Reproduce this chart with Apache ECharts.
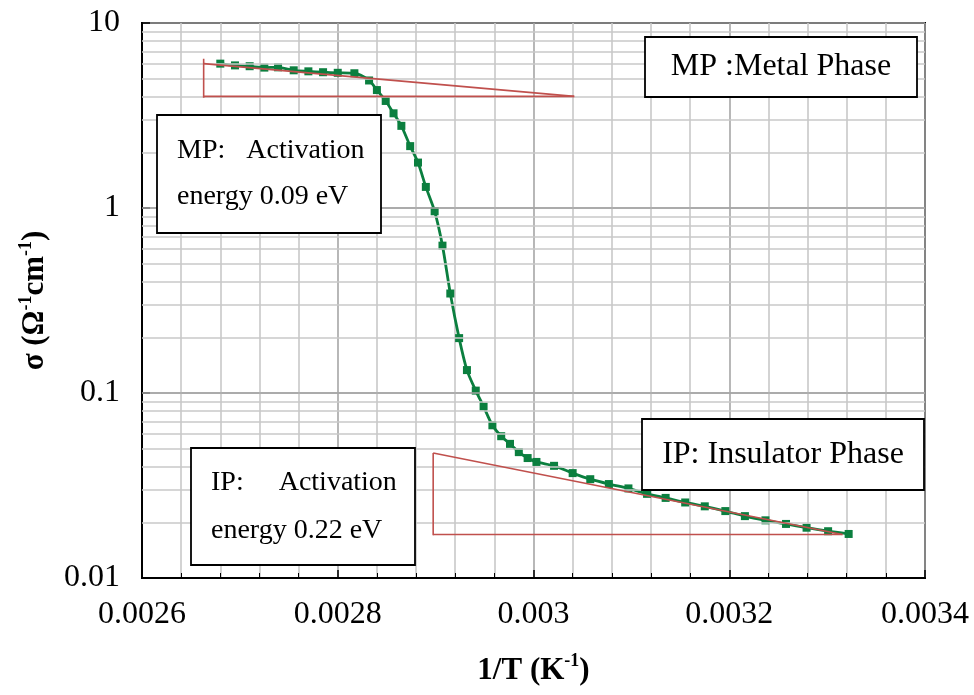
<!DOCTYPE html>
<html>
<head>
<meta charset="utf-8">
<script src="https://cdn.jsdelivr.net/npm/echarts@6/dist/echarts.min.js"></script>
<style>
  html, body { margin: 0; padding: 0; background: #fff; }
  #chart { width: 974px; height: 695px; }
</style>
</head>
<body>
<div id="chart"></div>
<script>
// Conductivity versus inverse temperature (1/T in K^-1, sigma in S/cm)
const invT = [
  0.002680, 0.002695, 0.002710, 0.002725, 0.002739, 0.002755, 0.002770, 0.002785,
  0.002800, 0.002817, 0.002832, 0.002840, 0.002849, 0.002857, 0.002865, 0.002874,
  0.002882, 0.002890, 0.002899, 0.002907, 0.002915, 0.002924, 0.002932, 0.002941,
  0.002949, 0.002958, 0.002967, 0.002976, 0.002985, 0.002994, 0.003003, 0.003021,
  0.003040, 0.003058, 0.003077, 0.003097, 0.003116, 0.003135, 0.003155, 0.003175,
  0.003196, 0.003216, 0.003237, 0.003258, 0.003279, 0.003301, 0.003322
];
const sigma = [
  6.03, 5.90, 5.84, 5.74, 5.76, 5.55, 5.48, 5.42,
  5.38, 5.35, 4.89, 4.34, 3.79, 3.25, 2.78, 2.16,
  1.76, 1.30, 0.96, 0.626, 0.345, 0.198, 0.133, 0.103,
  0.0845, 0.0669, 0.0584, 0.0531, 0.0479, 0.0445, 0.0424, 0.0404,
  0.0369, 0.0342, 0.0322, 0.0305, 0.0285, 0.0271, 0.0256, 0.0244,
  0.0230, 0.0216, 0.0205, 0.0196, 0.0187, 0.0179, 0.0173
];

// Activation-energy guide triangles (metal phase, insulator phase)
const mpRise = [[0.002663, 3.95], [0.002663, 6.40]];
const mpSlope = [[0.002663, 6.03], [0.0030416, 4.01]];
const mpRun = [[0.002663, 4.01], [0.0030416, 4.01]];
const ipRise = [[0.0028975, 0.0170], [0.0028975, 0.0474]];
const ipSlope = [[0.0028975, 0.0474], [0.0033157, 0.0172]];
const ipRun = [[0.0028975, 0.0172], [0.0033157, 0.0172]];

// Axis ranges and ticks
const xTicks = [0.0026, 0.0028, 0.003, 0.0032, 0.0034];
const yDecades = [0.01, 0.1, 1, 10];
const minorSteps = [2, 3, 4, 5, 6, 7, 8, 9];

// Labels
const xTitle = '1/T (K{sup|-1})';
const yTitle = 'σ (Ω{sup|-1}cm{sup|-1})';
const noteMetal = 'MP :Metal Phase';
const noteInsul = 'IP: Insulator Phase';
const noteMpLines = ['MP:   Activation', 'energy 0.09 eV'];
const noteIpLines = ['IP:     Activation', 'energy 0.22 eV'];

const SERIF = '"Liberation Serif", "Times New Roman", serif';
const GREEN = '#0b7f3f';
const RED = '#c0504d';

// horizontal minor grid lines at 2..9 of each decade
const yMinorLines = [];
yDecades.slice(0, -1).forEach(d => minorSteps.forEach(m => yMinorLines.push({ yAxis: +(d * m).toPrecision(3) })));
const yMajorLines = yDecades.slice(1, -1).map(v => ({ yAxis: v }));

const chart = echarts.init(document.getElementById('chart'), null, { renderer: 'canvas' });

function guide(data) {
  return {
    type: 'line', data: data, symbol: 'none', silent: true, z: 5,
    lineStyle: { color: RED, width: 1.6 }
  };
}

function noteBox(x, y, w, h, lines, fontSize, lineGap) {
  const out = [{
    type: 'rect', z: 100, zlevel: 0,
    shape: { x: x, y: y, width: w, height: h },
    style: { fill: '#ffffff', stroke: '#000', lineWidth: 1.8 }
  }];
  lines.forEach((t, i) => {
    out.push({
      type: 'text', z: 101, zlevel: 0,
      x: lines.length === 1 ? x + w / 2 : x + 20,
      y: y + h / 2 + (i - (lines.length - 1) / 2) * lineGap,
      style: {
        text: t, font: fontSize + 'px ' + SERIF, fill: '#000',
        align: lines.length === 1 ? 'center' : 'left', verticalAlign: 'middle'
      }
    });
  });
  return out;
}

const option = {
  animation: false,
  backgroundColor: '#fff',
  grid: {
    left: 142, right: 49, top: 23, bottom: 112,
    show: true, borderColor: '#000', borderWidth: 2, backgroundColor: 'transparent'
  },
  xAxis: {
    type: 'value', min: xTicks[0], max: xTicks[xTicks.length - 1], interval: 0.0002,
    name: xTitle, nameLocation: 'middle', nameGap: 74,
    nameTextStyle: {
      fontFamily: SERIF, fontSize: 31, fontWeight: 'bold', color: '#000', lineHeight: 38,
      rich: { sup: { fontFamily: SERIF, fontSize: 18, fontWeight: 'bold', color: '#000', verticalAlign: 'top', lineHeight: 38, padding: [0, 0, 14, 0] } }
    },
    axisLine: { lineStyle: { color: '#000', width: 2 } },
    axisTick: { show: true, inside: true, length: 8, lineStyle: { color: '#000', width: 1.5 } },
    minorTick: { show: true, splitNumber: 5, length: 5, lineStyle: { color: '#000', width: 1 } },
    axisLabel: {
      fontFamily: SERIF, fontSize: 32, color: '#000', margin: 21,
      formatter: v => String(+v.toFixed(6))
    },
    splitLine: { show: true, lineStyle: { color: '#a6a6a6', width: 1.6 } },
    minorSplitLine: { show: true, lineStyle: { color: '#c8c8c8', width: 1.6 } }
  },
  yAxis: {
    type: 'log', logBase: 10, min: yDecades[0], max: yDecades[yDecades.length - 1],
    name: yTitle, nameLocation: 'middle', nameGap: 86, nameRotate: 90,
    nameTextStyle: {
      fontFamily: SERIF, fontSize: 31, fontWeight: 'bold', color: '#000', lineHeight: 36,
      rich: { sup: { fontFamily: SERIF, fontSize: 18, fontWeight: 'bold', color: '#000', verticalAlign: 'top', lineHeight: 36, padding: [0, 0, 13, 0] } }
    },
    axisLine: { show: true, lineStyle: { color: '#000', width: 2 } },
    axisTick: { show: true, inside: true, length: 8, lineStyle: { color: '#000', width: 1.5 } },
    axisLabel: {
      fontFamily: SERIF, fontSize: 32, color: '#000', margin: 22,
      formatter: v => String(+(+v).toPrecision(3))
    },
    splitLine: { show: true, lineStyle: { color: '#a6a6a6', width: 1.6 } }
  },
  series: [
    {
      // grid helper: log-scale minor lines drawn through the y scale
      type: 'line', data: [], silent: true, z: 0,
      markLine: {
        silent: true, symbol: 'none', label: { show: false }, animation: false,
        lineStyle: { color: '#c8c8c8', width: 1.6, type: 'solid' },
        data: yMinorLines
      }
    },
    {
      type: 'line', data: [], silent: true, z: 0,
      markLine: {
        silent: true, symbol: 'none', label: { show: false }, animation: false,
        lineStyle: { color: '#a6a6a6', width: 1.6, type: 'solid' },
        data: yMajorLines
      }
    },
    {
      type: 'line',
      data: invT.map((x, i) => [x, sigma[i]]),
      smooth: 0.25,
      symbol: 'rect', symbolSize: 8,
      itemStyle: { color: GREEN },
      lineStyle: { color: GREEN, width: 2.8 },
      z: 3
    },
    guide(mpRise), guide(mpSlope), guide(mpRun),
    guide(ipRise), guide(ipSlope), guide(ipRun)
  ],
  graphic: {
    elements: [].concat(
      noteBox(645, 37, 272, 60, [noteMetal], 32, 0),
      noteBox(157, 115, 224, 118, noteMpLines, 28, 46),
      noteBox(642, 419, 282, 71, [noteInsul], 32, 0),
      noteBox(191, 448, 224, 117, noteIpLines, 28, 48)
    )
  }
};

chart.setOption(option);
</script>
</body>
</html>
